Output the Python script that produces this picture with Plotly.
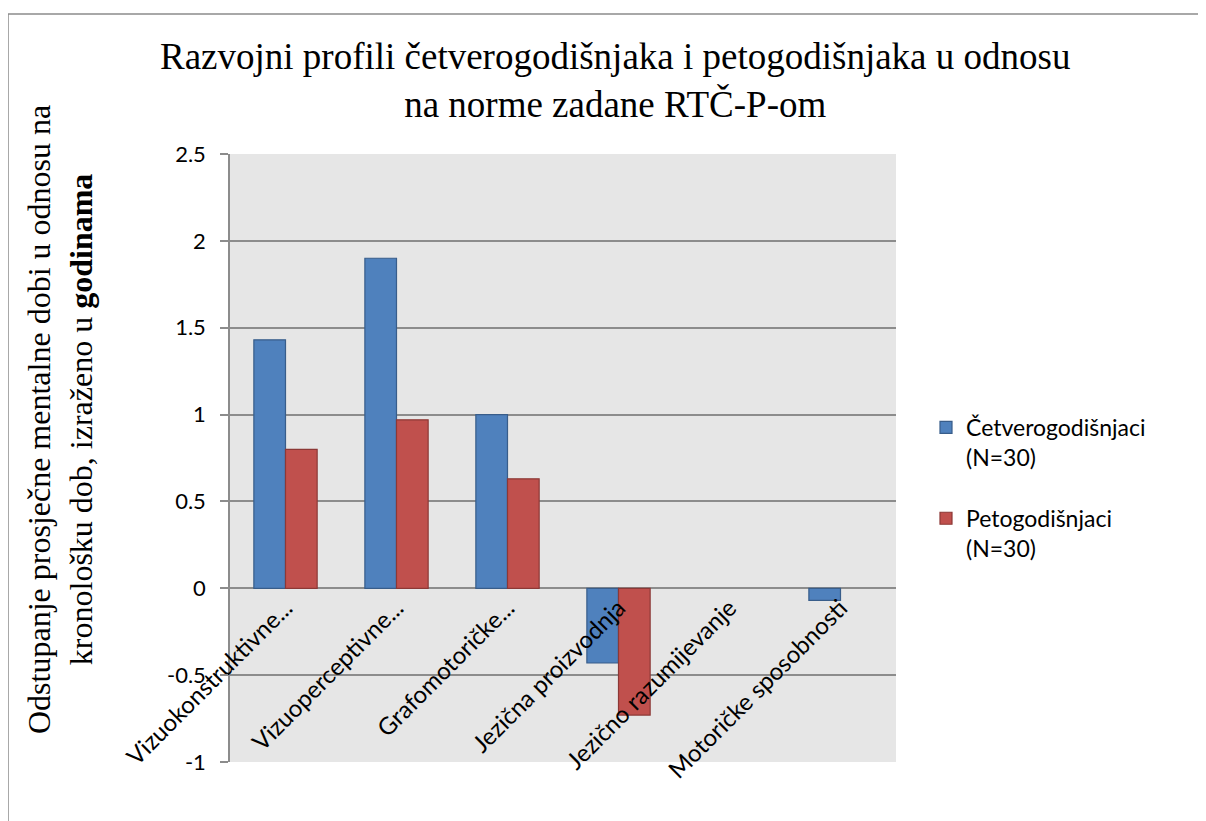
import plotly.graph_objects as go

categories = ["Vizuokonstruktivne...", "Vizuoperceptivne...", "Grafomotoričke...",
              "Jezična proizvodnja", "Jezično razumijevanje", "Motoričke sposobnosti"]
cetvero = [1.43, 1.90, 1.00, -0.43, None, -0.07]
peto = [0.80, 0.97, 0.63, -0.73, None, None]
series_names = ["Četverogodišnjaci<br>(N=30)", "Petogodišnjaci<br>(N=30)"]
y_ticks = [-1, -0.5, 0, 0.5, 1, 1.5, 2, 2.5]
y_tick_labels = ["-1", "-0.5", "0", "0.5", "1", "1.5", "2", "2.5"]

OFF = 8  # page body margin
W, H = 1206 - OFF, 821 - OFF
# plot area in screen pixels
SL, SR, ST, SB = 230, 896, 154, 762
L, R, T, B = SL - OFF, SR - OFF, ST - OFF, SB - OFF

def px(xs):
    return (xs - SL) / (SR - SL)

def py(ys):
    return (SB - ys) / (SB - ST)

SANS = "Lato, 'Open Sans', sans-serif"
SERIF = "Liberation Serif, 'Times New Roman', serif"

fig = go.Figure()
fig.add_trace(go.Bar(x=categories, y=cetvero, name=series_names[0], legendgroup="a",
                     marker=dict(color="#4F81BD", line=dict(color="#385D8A", width=1.2))))
fig.add_trace(go.Bar(x=categories, y=peto, name=series_names[1], legendgroup="b",
                     marker=dict(color="#C0504D", line=dict(color="#8C3836", width=1.2))))

ymin, ymax = -1, 2.5
fig.update_layout(
    width=W, height=H,
    margin=dict(l=L, r=W - R, t=T, b=H - B, autoexpand=False),
    paper_bgcolor="white",
    plot_bgcolor="#E6E6E6",
    barmode="group",
    bargap=0.43,
    bargroupgap=0,
    font=dict(family=SANS, size=20, color="black"),
    showlegend=True,
    legend=dict(x=px(926), y=py(406), xanchor="left", yanchor="top",
                valign="top", tracegroupgap=28,
                font=dict(family=SANS, size=23, color="black"),
                bgcolor="rgba(0,0,0,0)"),
    xaxis=dict(anchor="free", position=(0 - ymin) / (ymax - ymin),
               tickangle=-45, showgrid=False, zeroline=False, showline=False,
               ticks="", tickfont=dict(family=SANS, size=24)),
    yaxis=dict(range=[ymin, ymax], tickvals=y_ticks, ticktext=y_tick_labels,
               showgrid=True, gridcolor="#8C8C8C", gridwidth=1.5,
               zeroline=False, showline=True, linecolor="#8C8C8C", linewidth=1.5,
               ticks="outside", ticklen=8, tickcolor="#8C8C8C", tickwidth=1.5,
               ticklabelstandoff=10,
               tickfont=dict(family=SANS, size=22)),
)

# Chart title
fig.add_annotation(xref="paper", yref="paper", x=px(615), y=py(80),
                   xanchor="center", yanchor="middle", showarrow=False,
                   text="Razvojni profili četverogodišnjaka i petogodišnjaka u odnosu<br>na norme zadane RTČ-P-om",
                   font=dict(family=SERIF, size=37, color="black"))

# Y-axis title
fig.add_annotation(xref="paper", yref="paper", x=px(60), y=py(420),
                   xanchor="center", yanchor="middle", showarrow=False, textangle=-90,
                   text="Odstupanje prosječne mentalne dobi u odnosu na<br>kronološku dob, izraženo u <b>godinama</b>",
                   font=dict(family=SERIF, size=32, color="black"))

# Outer chart border
fig.add_shape(type="rect", xref="paper", yref="paper",
              x0=px(8), x1=px(1215), y0=py(840), y1=py(14),
              line=dict(color="#8C8C8C", width=1.5), fillcolor="rgba(0,0,0,0)", layer="below")

fig.write_html("out.html")
